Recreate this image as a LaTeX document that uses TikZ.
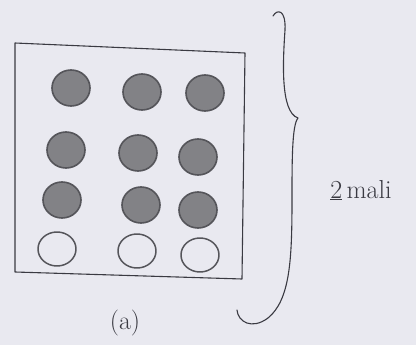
\documentclass[tikz,border=0pt]{standalone}
\usepackage{tikz}
\usetikzlibrary{calc}
\usepackage{xcolor}
\definecolor{paper}{HTML}{E9E9F0}
\definecolor{pencil}{HTML}{3A3A42}
\definecolor{ballfill}{HTML}{828286}
\definecolor{balledge}{HTML}{55555A}

\begin{document}
\begin{tikzpicture}[x=1pt,y=-1pt,line cap=round,line join=round,
  ink/.style={draw=pencil,line width=1.1pt},
  full/.style={draw=balledge,line width=1.6pt,fill=ballfill},
  empty/.style={draw=balledge,line width=1.5pt},
  hand/.style={pencil,font=\fontsize{26}{28}\selectfont}]
  % background and page size
  \fill[paper] (0,0) rectangle (416,345);
  \useasboundingbox (0,0) rectangle (416,345);
  % box
  \coordinate (tl) at (15,43);
  \coordinate (tr) at (245,53);
  \coordinate (br) at (242,279);
  \coordinate (bl) at (15,272);
  \draw[ink] (tl) -- (tr) -- (br) -- (bl) -- cycle;
  % filled balls
  \foreach \x/\y in {71/88,142/92,205/93,66/150,138/153,198/157,62/200,141/205,198/210}
    \draw[full] (\x,\y) ellipse (19 and 18);
  % empty balls
  \foreach \x/\y in {57/249,137/251,200/255}
    \draw[empty] (\x,\y) ellipse (19 and 17);
  % brace
  \coordinate (btop) at (273,16);
  \coordinate (bcusp) at (298,118);
  \coordinate (bbot) at (237,310);
  \draw[ink] (btop) .. controls (277,9) and (286,9) .. (285,30)
    .. controls (283,60) and (280,112) .. (bcusp)
    .. controls (292,125) and (292,160) .. (292,200)
    .. controls (292,260) and (290,300) .. (268,318)
    .. controls (252,330) and (238,322) .. (bbot);
  % labels
  \node[hand] (speed) at (361,190) {\underline{2}\,mali};
  \node[hand] (cap) at (125,323) {(a)};
\end{tikzpicture}
\end{document}
